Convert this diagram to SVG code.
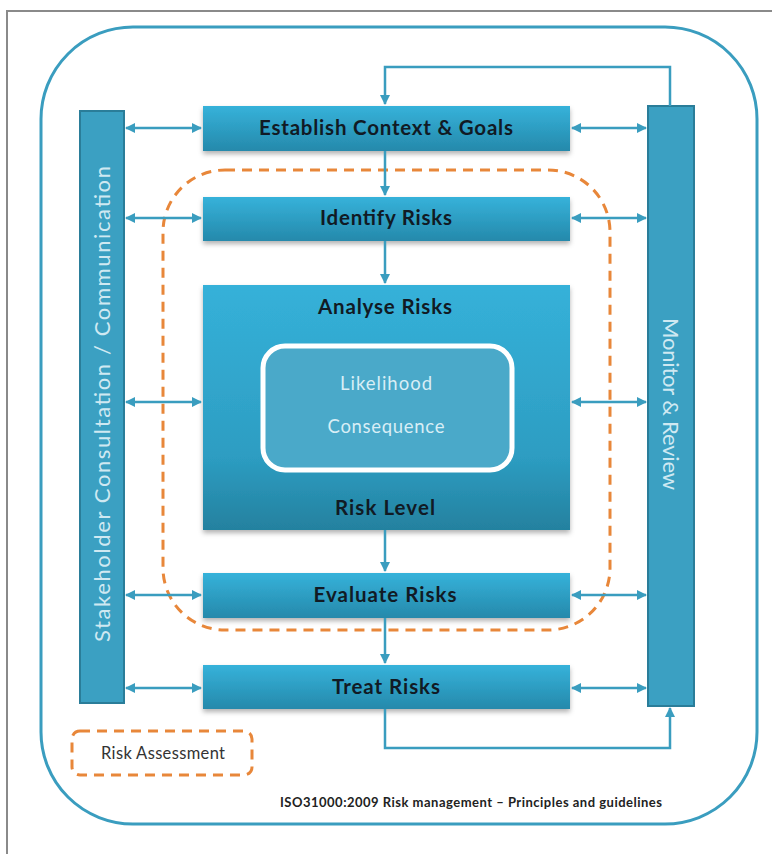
<svg xmlns="http://www.w3.org/2000/svg" width="772" height="854" viewBox="0 0 772 854">
  <defs>
    <linearGradient id="boxGrad" x1="0" y1="0" x2="0" y2="1">
      <stop offset="0" stop-color="#36b2da"/>
      <stop offset="1" stop-color="#2589ab"/>
    </linearGradient>
    <linearGradient id="bigGrad" x1="0" y1="0" x2="0" y2="1">
      <stop offset="0" stop-color="#35b1d9"/>
      <stop offset="0.7" stop-color="#2d9dc2"/>
      <stop offset="1" stop-color="#24819f"/>
    </linearGradient>
    <filter id="shadow" x="-10%" y="-20%" width="120%" height="150%">
      <feDropShadow dx="0" dy="3" stdDeviation="2.5" flood-color="#000" flood-opacity="0.3"/>
    </filter>
    <marker id="arr" viewBox="0 0 10 10" refX="9" refY="5" markerWidth="4" markerHeight="4" orient="auto-start-reverse" markerUnits="strokeWidth">
      <path d="M0,0 L10,5 L0,10 z" fill="#3a9dbf"/>
    </marker>
  </defs>
  <style>
    .frame { fill: none; stroke: #8a8a8a; stroke-width: 2; }
    .outer { fill: none; stroke: #3a9dbf; stroke-width: 3; }
    .dash { fill: none; stroke: #e8873a; stroke-width: 3; stroke-dasharray: 10 7; }
    .bar { fill: #3ba0c2; stroke: #2a7d99; stroke-width: 2; }
    .box { fill: url(#boxGrad); filter: url(#shadow); }
    .big { fill: url(#bigGrad); filter: url(#shadow); }
    .inner { fill: #4aa9c9; stroke: #ffffff; stroke-width: 5; }
    .title { font-family: Lato, "Open Sans", sans-serif; font-weight: bold; font-size: 20.5px; fill: #111a24; text-anchor: middle; }
    .soft { font-family: Lato, "Open Sans", sans-serif; font-size: 18.5px; fill: #d8eef6; text-anchor: middle; }
    .vert { font-family: Lato, "Open Sans", sans-serif; font-size: 22px; fill: #cfe9f2; text-anchor: middle; }
    .legend { font-family: Lato, "Open Sans", sans-serif; font-size: 16.5px; fill: #333; text-anchor: middle; }
    .note { font-family: Lato, "Open Sans", sans-serif; font-weight: bold; font-size: 13px; fill: #222; text-anchor: middle; }
    .link { fill: none; stroke: #3a9dbf; stroke-width: 2.5; }
  </style>

  <rect width="772" height="854" fill="#ffffff"/>
  <!-- picture border (top and left) -->
  <path class="frame" d="M7,854 V11 H772"/>

  <!-- outer rounded process boundary -->
  <rect class="outer" x="41" y="27" width="716" height="797" rx="92" ry="92"/>

  <!-- risk assessment region -->
  <rect class="dash" x="163" y="170" width="447" height="460" rx="62" ry="62"/>

  <g id="stakeholder">
    <rect class="bar" x="80" y="111" width="44" height="592"/>
    <text class="vert" transform="translate(110,404) rotate(-90)" textLength="476" lengthAdjust="spacing">Stakeholder Consultation / Communication</text>
  </g>

  <g id="monitor">
    <rect class="bar" x="648" y="106" width="46" height="600"/>
    <text class="vert" transform="translate(663,404) rotate(90)" textLength="172" lengthAdjust="spacing">Monitor &amp; Review</text>
  </g>

  <g id="establish">
    <rect class="box" x="203" y="106" width="367" height="45"/>
    <text class="title" x="386" y="135" textLength="254" lengthAdjust="spacing">Establish Context &amp; Goals</text>
  </g>

  <g id="identify">
    <rect class="box" x="203" y="197" width="367" height="44"/>
    <text class="title" x="386" y="225" textLength="132" lengthAdjust="spacing">Identify Risks</text>
  </g>

  <g id="analyse">
    <rect class="big" x="203" y="285" width="367" height="245"/>
    <text class="title" x="385" y="314" textLength="134" lengthAdjust="spacing">Analyse Risks</text>
    <rect class="inner" x="263" y="346" width="249" height="124" rx="22" ry="22"/>
    <text class="soft" x="386" y="390" textLength="92" lengthAdjust="spacing">Likelihood</text>
    <text class="soft" x="386" y="433" textLength="117" lengthAdjust="spacing">Consequence</text>
    <text class="title" x="385" y="515" textLength="100" lengthAdjust="spacing">Risk Level</text>
  </g>

  <g id="evaluate">
    <rect class="box" x="203" y="573" width="367" height="45"/>
    <text class="title" x="385" y="602" textLength="143" lengthAdjust="spacing">Evaluate Risks</text>
  </g>

  <g id="treat">
    <rect class="box" x="203" y="665" width="367" height="44"/>
    <text class="title" x="386" y="694" textLength="108" lengthAdjust="spacing">Treat Risks</text>
  </g>

  <g id="legend">
    <rect class="dash" x="72" y="731" width="180" height="44" rx="8" ry="8"/>
    <text class="legend" x="163" y="759" textLength="124" lengthAdjust="spacing">Risk Assessment</text>
  </g>

  <text class="note" x="471" y="807" textLength="382" lengthAdjust="spacing">ISO31000:2009 Risk management – Principles and guidelines</text>

  <g id="connectors">
    <!-- main flow -->
    <path class="link" d="M670,106 V67 H385 V104" marker-end="url(#arr)"/>
    <path class="link" d="M385,151 V195" marker-end="url(#arr)"/>
    <path class="link" d="M385,241 V283" marker-end="url(#arr)"/>
    <path class="link" d="M385,530 V571" marker-end="url(#arr)"/>
    <path class="link" d="M385,618 V663" marker-end="url(#arr)"/>
    <path class="link" d="M385,709 V748 H670 V708" marker-end="url(#arr)"/>
    <!-- communication links -->
    <path class="link" d="M126,128 H201" marker-start="url(#arr)" marker-end="url(#arr)"/>
    <path class="link" d="M126,218 H201" marker-start="url(#arr)" marker-end="url(#arr)"/>
    <path class="link" d="M126,402 H201" marker-start="url(#arr)" marker-end="url(#arr)"/>
    <path class="link" d="M126,595 H201" marker-start="url(#arr)" marker-end="url(#arr)"/>
    <path class="link" d="M126,688 H201" marker-start="url(#arr)" marker-end="url(#arr)"/>
    <!-- monitoring links -->
    <path class="link" d="M572,128 H646" marker-start="url(#arr)" marker-end="url(#arr)"/>
    <path class="link" d="M572,218 H646" marker-start="url(#arr)" marker-end="url(#arr)"/>
    <path class="link" d="M572,402 H646" marker-start="url(#arr)" marker-end="url(#arr)"/>
    <path class="link" d="M572,595 H646" marker-start="url(#arr)" marker-end="url(#arr)"/>
    <path class="link" d="M572,688 H646" marker-start="url(#arr)" marker-end="url(#arr)"/>
  </g>
</svg>
